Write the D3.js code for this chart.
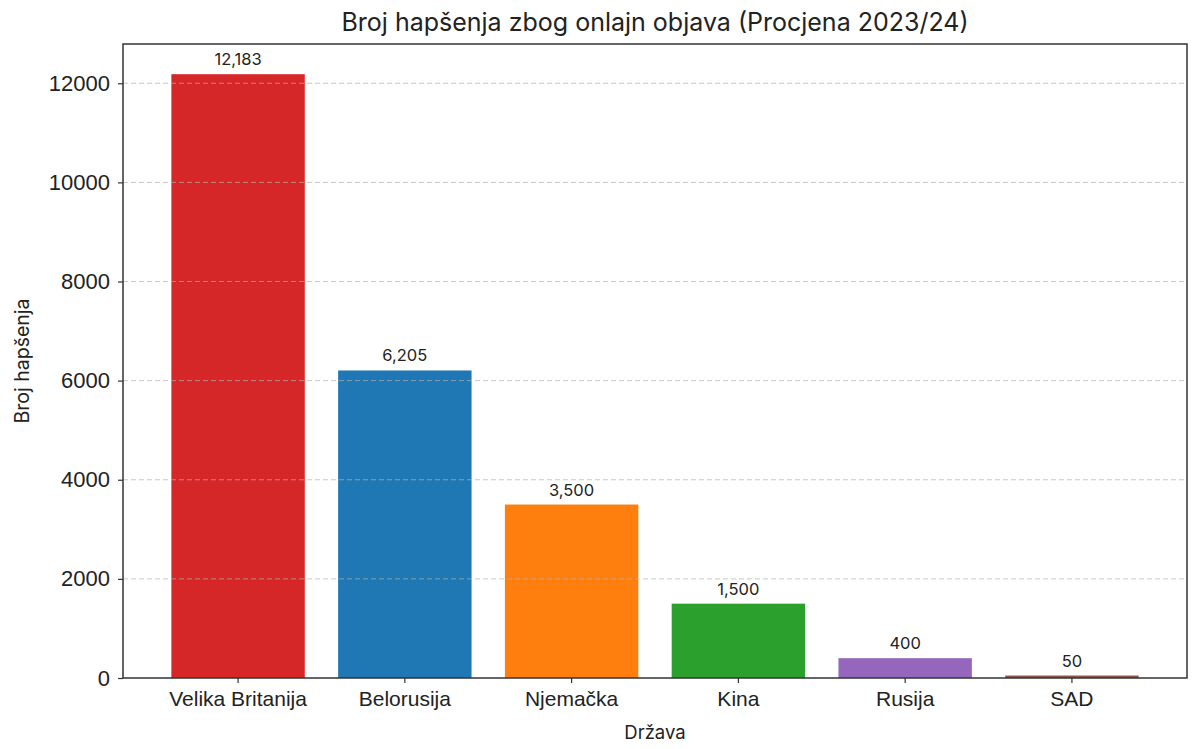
<!DOCTYPE html>
<html>
<head>
<meta charset="utf-8">
<script src="https://cdn.jsdelivr.net/npm/d3@7"></script>
<style>
  body { margin: 0; background: #fff; }
  svg { font-family: "Inter", "Noto Sans", sans-serif; }
</style>
</head>
<body>
<div id="canvas"></div>
<script>
const countries = ["Velika Britanija", "Belorusija", "Njemačka", "Kina", "Rusija", "SAD"];
const arrests = [12183, 6205, 3500, 1500, 400, 50];
const colors = ["#d62728", "#1f77b4", "#ff7f0e", "#2ca02c", "#9467bd", "#8c564b"];
const yTicks = [0, 2000, 4000, 6000, 8000, 10000, 12000];

const width = 1200;
const height = 749;
const margin = { top: 44, left: 123, bottom: 71, right: 13 };
const iwidth = width - margin.left - margin.right;
const iheight = height - margin.top - margin.bottom;

const svg = d3.select("#canvas").append("svg")
    .attr("width", width)
    .attr("height", height);

let g = svg.append("g").attr("transform", `translate(${margin.left},${margin.top})`);

const x = d3.scaleBand()
    .domain(countries)
    .range([0, iwidth])
    .paddingInner(0.2)
    .paddingOuter(0.29);

const y = d3.scaleLinear()
    .domain([0, d3.max(arrests) * 1.05])
    .range([iheight, 0]);

const data = countries.map((c, i) => ({ name: c, value: arrests[i], color: colors[i] }));

// bars
g.selectAll("rect.bar").data(data).enter().append("rect")
    .attr("class", "bar")
    .attr("x", d => x(d.name))
    .attr("y", d => y(d.value))
    .attr("width", x.bandwidth())
    .attr("height", d => iheight - y(d.value))
    .style("fill", d => d.color);

// dashed grid on top of bars
g.selectAll("line.grid").data(yTicks.slice(1)).enter().append("line")
    .attr("class", "grid")
    .attr("x1", 0).attr("x2", iwidth)
    .attr("y1", d => y(d)).attr("y2", d => y(d))
    .attr("stroke", "#b0b0b0")
    .attr("stroke-opacity", 0.7)
    .attr("stroke-width", 1)
    .attr("stroke-dasharray", "5,3");

// value labels
g.selectAll("text.val").data(data).enter().append("text")
    .attr("class", "val")
    .attr("x", d => x(d.name) + x.bandwidth() / 2)
    .attr("y", d => y(d.value) - 9)
    .attr("text-anchor", "middle")
    .style("font-size", "16.5px")
    .style("fill", "#222")
    .text(d => d3.format(",")(d.value));

// axes
const xAxis = g.append("g")
    .attr("transform", `translate(0, ${iheight})`)
    .call(d3.axisBottom(x).tickSizeOuter(0).tickSize(5).tickPadding(5));
const yAxis = g.append("g")
    .call(d3.axisLeft(y).tickValues(yTicks).tickFormat(d3.format("d")).tickSizeOuter(0).tickSize(5).tickPadding(8));

[xAxis, yAxis].forEach(a => {
  a.select(".domain").remove();
  a.selectAll("line").attr("stroke", "#333").attr("stroke-width", 1.2);
  a.selectAll("text").style("fill", "#222").attr("font-family", null);
});
xAxis.selectAll("text").style("font-size", "21px").attr("dy", "0.85em");
yAxis.selectAll("text").style("font-size", "22px");

// frame
g.append("rect")
    .attr("width", iwidth).attr("height", iheight)
    .attr("fill", "none")
    .attr("stroke", "#333")
    .attr("stroke-width", 1.5);

// title and axis labels
svg.append("text")
    .attr("x", margin.left + iwidth / 2).attr("y", 31)
    .attr("text-anchor", "middle")
    .style("font-size", "25px").style("fill", "#222")
    .text("Broj hapšenja zbog onlajn objava (Procjena 2023/24)");

svg.append("text")
    .attr("x", margin.left + iwidth / 2).attr("y", 739)
    .attr("text-anchor", "middle")
    .style("font-size", "18.5px").style("fill", "#222")
    .text("Država");

svg.append("text")
    .attr("transform", `translate(29, ${margin.top + iheight / 2}) rotate(-90)`)
    .attr("text-anchor", "middle")
    .style("font-size", "19.5px").style("fill", "#222")
    .text("Broj hapšenja");
</script>
</body>
</html>
